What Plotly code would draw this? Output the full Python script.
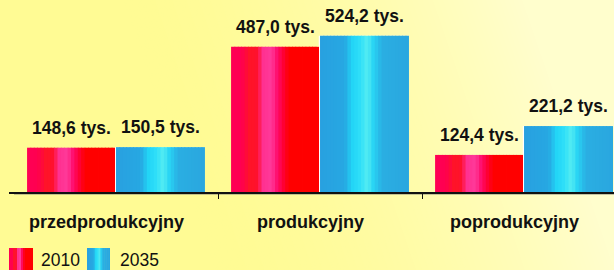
import base64
import struct
import zlib

import numpy as np
import plotly.graph_objects as go

# ---------------- data ----------------
categories = ["przedprodukcyjny", "produkcyjny", "poprodukcyjny"]
series_names = ["2010", "2035"]
values_2010 = [148.6, 487.0, 124.4]
values_2035 = [150.5, 524.2, 221.2]
unit_suffix = " tys."

# ---------------- geometry / style ----------------
W, H = 614, 270
M_L, M_R, M_T, M_B = 9, 0, 20, 78
PLOT_W = W - M_L - M_R
PLOT_H = H - M_T - M_B
X_RANGE = [-0.5245, 2.441]
Y_RANGE = [0, 577]
FONT = "Liberation Sans, Arial, sans-serif"

red_stops = [(0.0, "#FF0055"), (0.12, "#FF0050"), (0.22, "#FF1525"), (0.30, "#FF1030"),
             (0.36, "#FF3090"), (0.46, "#FF3A9A"), (0.52, "#FF1070"), (0.58, "#FF0040"),
             (0.66, "#FF0000"), (1.0, "#FF0000")]
blue_stops = [(0.0, "#28A0E0"), (0.28, "#27A8E2"), (0.36, "#22D4F6"), (0.46, "#30E0F8"),
              (0.53, "#55ECF2"), (0.60, "#28D4F4"), (0.70, "#2AAEE2"), (1.0, "#2AA6DF")]


def hex2rgb(h):
    h = h.lstrip("#")
    return tuple(int(h[i:i + 2], 16) for i in (0, 2, 4))


def interp(stops, t):
    for (t0, c0), (t1, c1) in zip(stops[:-1], stops[1:]):
        if t0 <= t <= t1:
            a = 0 if t1 == t0 else (t - t0) / (t1 - t0)
            r0, r1 = hex2rgb(c0), hex2rgb(c1)
            return "rgb(%d,%d,%d)" % tuple(round(r0[k] + (r1[k] - r0[k]) * a) for k in range(3))
    return stops[-1][1]


def png_data_uri(img):
    h, w, _ = img.shape
    raw = b"".join(b"\x00" + img[r].tobytes() for r in range(h))

    def chunk(tag, data):
        c = struct.pack(">I", len(data)) + tag + data
        return c + struct.pack(">I", zlib.crc32(tag + data) & 0xFFFFFFFF)

    png = b"\x89PNG\r\n\x1a\n"
    png += chunk(b"IHDR", struct.pack(">IIBBBBB", w, h, 8, 2, 0, 0, 0))
    png += chunk(b"IDAT", zlib.compress(raw, 9))
    png += chunk(b"IEND", b"")
    return "data:image/png;base64," + base64.b64encode(png).decode()


def px_x(px):
    return (px - M_L) / PLOT_W


def px_y(py):
    return (H - M_B - py) / PLOT_H


# background gradient (yellow -> pale towards the right)
yy, xx = np.mgrid[0:H, 0:W]
u = xx / W
v = yy / H
p = np.clip((u - 0.35 + 0.15 * (1 - v)) / 0.65, 0, 1) ** 1.6
base = np.array([255, 251, 148], float)
pale = np.array([255, 254, 205], float)
img = (base[None, None, :] * (1 - p[..., None]) + pale[None, None, :] * p[..., None]).astype(np.uint8)
bg_uri = png_data_uri(img)

xpos = list(range(len(categories)))
fig = go.Figure()

N = 26
series = [
    (values_2010, red_stops, -0.436, 0.431, series_names[0]),
    (values_2035, blue_stops, 0.0, 0.436, series_names[1]),
]

# thin white separator behind the 2035 bars
fig.add_trace(go.Bar(x=xpos, y=values_2035, offset=-0.006, width=0.442,
                     marker=dict(color="white", line=dict(width=0)),
                     showlegend=False, hoverinfo="skip"))

for vals, stops, off, w, name in series:
    for i in range(N):
        t = (i + 0.5) / N
        sw = w / N
        fig.add_trace(go.Bar(
            x=xpos, y=vals,
            offset=off + i * sw,
            width=sw * (1.25 if i < N - 1 else 1.0),
            marker=dict(color=interp(stops, t), line=dict(width=0)),
            name=name, legendgroup=name,
            showlegend=False,
            hoverinfo="skip",
        ))

# value labels above bars
for vals, _, off, w, _ in series:
    for xi, val in zip(xpos, vals):
        fig.add_annotation(
            x=xi + off + w / 2, y=val, xref="x", yref="y",
            text=("%.1f" % val).replace(".", ",") + unit_suffix,
            showarrow=False, yanchor="bottom", yshift=8,
            font=dict(family=FONT, size=17.5, color="#111111", weight="bold"),
        )

# category labels
for xi, cat in zip(xpos, categories):
    fig.add_annotation(
        x=xi, y=-30 / PLOT_H, xref="x", yref="paper",
        text=cat, showarrow=False, yanchor="middle", xshift=-10,
        font=dict(family=FONT, size=18, color="#111111", weight="bold"),
    )

shapes = []
# axis shadow
shapes.append(dict(type="line", xref="paper", yref="paper",
                   x0=px_x(14), x1=px_x(W), y0=px_y(194), y1=px_y(194),
                   line=dict(color="#8a8a7a", width=1.2), layer="below"))

# legend: gradient swatches + text
legend_items = [(series_names[0], red_stops, 9, 33, 39), (series_names[1], blue_stops, 87, 110, 118)]
NS = 12
for name, stops, sx0, sx1, tx in legend_items:
    sw = (sx1 - sx0) / NS
    for i in range(NS):
        t = (i + 0.5) / NS
        shapes.append(dict(type="rect", xref="paper", yref="paper",
                           x0=px_x(sx0 + i * sw), x1=px_x(sx0 + (i + 1) * sw + (0.6 if i < NS - 1 else 0)),
                           y0=px_y(274), y1=px_y(248),
                           fillcolor=interp(stops, t), line=dict(width=0), layer="above"))
    fig.add_annotation(x=px_x(tx), y=px_y(260), xref="paper", yref="paper",
                       text=name, showarrow=False, xanchor="left", yanchor="middle",
                       font=dict(family=FONT, size=17.5, color="#111111"))

fig.update_layout(
    width=W, height=H,
    margin=dict(l=M_L, r=M_R, t=M_T, b=M_B, pad=0, autoexpand=False),
    paper_bgcolor="#FFFB96",
    plot_bgcolor="rgba(0,0,0,0)",
    barmode="overlay",
    images=[dict(source=bg_uri, xref="paper", yref="paper",
                 x=-M_L / PLOT_W, y=1 + M_T / PLOT_H,
                 sizex=W / PLOT_W, sizey=H / PLOT_H,
                 xanchor="left", yanchor="top", sizing="stretch", layer="below")],
    shapes=shapes,
    xaxis=dict(range=X_RANGE, showgrid=False, zeroline=False,
               showline=True, linecolor="#111111", linewidth=2,
               tickmode="array", tickvals=[i + 0.5 for i in xpos[:-1]],
               ticktext=["" for _ in xpos[:-1]],
               ticks="outside", ticklen=5, tickwidth=1, tickcolor="#111111"),
    yaxis=dict(range=Y_RANGE, visible=False, fixedrange=True),
    showlegend=False,
    font=dict(family=FONT),
)

fig.write_html(
    "out.html",
    config={"displayModeBar": False},
    post_script="document.body.style.margin='0';document.body.style.overflow='hidden';",
)
